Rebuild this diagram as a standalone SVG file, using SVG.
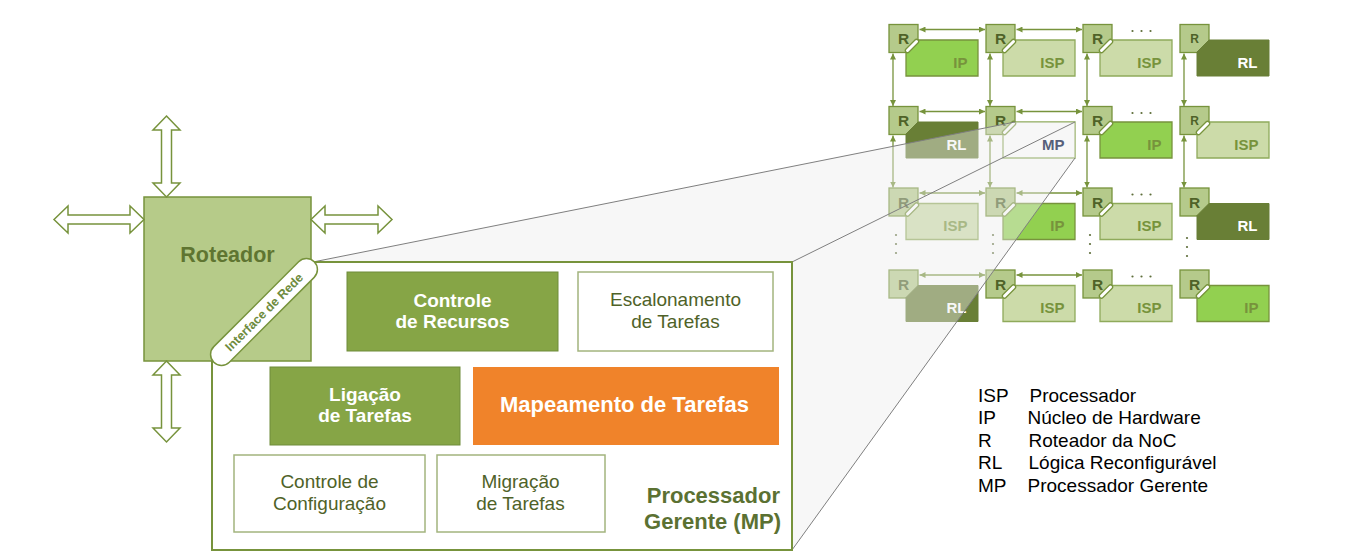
<svg xmlns="http://www.w3.org/2000/svg" width="1361" height="556" viewBox="0 0 1361 556">
<style>
text{font-family:"Liberation Sans",Arial,sans-serif}
.rb{fill:#B5CA8B;stroke:#77933C;stroke-width:1.3}
.isp{fill:#CCDBA9;stroke:#8FAA5B;stroke-width:1.3}
.ip{fill:#92D050;stroke:#77933C;stroke-width:1.3}
.rl{fill:#697F36;stroke:#697F36;stroke-width:1}
.mp{fill:#FFFFFF;stroke:#8FAA5B;stroke-width:1.3}
.po{stroke:#77933C;stroke-width:5.5;stroke-linecap:round}
.pw{stroke:#FFFFFF;stroke-width:3;stroke-linecap:round}
.rt{font-size:15.5px;font-weight:bold;fill:#4F6228;text-anchor:middle}
.rts{font-size:12px}
.lb{font-size:15px;font-weight:bold;fill:#77933C;text-anchor:end}
.lw{fill:#FFFFFF}
.ar{stroke:#77933C;stroke-width:1.3;fill:none;marker-start:url(#ah);marker-end:url(#ah)}
.dot{fill:#5E6E3A}
.blk{fill:#FFFFFF;stroke:#77933C;stroke-width:1.5;stroke-linejoin:miter}
.gbox{fill:#86A546;stroke:#6F8C3A;stroke-width:1}
.wbox{fill:#FFFFFF;stroke:#A3B47E;stroke-width:1.5}
.tw{font-size:19px;font-weight:bold;fill:#FFFFFF;text-anchor:middle}
.tg{font-size:19px;fill:#4F6228;text-anchor:middle}
.lg{font-size:19px;fill:#000000}
.pl{stroke:#7F7F7F;stroke-width:1;fill:none}
</style>
<defs>
<marker id="ah" viewBox="0 0 6 6" refX="6" refY="3" markerWidth="6" markerHeight="6" markerUnits="userSpaceOnUse" orient="auto-start-reverse">
<path d="M0,0 L6,3 L0,6 z" fill="#77933C"/>
</marker>
<rect id="rsq" x="0" y="0" width="29" height="28"/>
<polygon id="body" points="29,15.5 89,15.5 89,51.5 17,51.5 17,27.5"/>
<g id="pill"><line class="po" x1="27.5" y1="17" x2="18.5" y2="26"/><line class="pw" x1="27.5" y1="17" x2="18.5" y2="26"/></g>
</defs>

<!-- NoC grid connectors -->
<g id="grid-connectors">
<line class="ar" x1="919.5" y1="29.5" x2="985" y2="29.5"/>
<line class="ar" x1="1016.5" y1="29.5" x2="1082" y2="29.5"/>
<line class="ar" x1="919.5" y1="111.5" x2="985" y2="111.5"/>
<line class="ar" x1="1016.5" y1="111.5" x2="1082" y2="111.5"/>
<line class="ar" x1="919.5" y1="193" x2="985" y2="193"/>
<line class="ar" x1="1016.5" y1="193" x2="1082" y2="193"/>
<line class="ar" x1="919.5" y1="275" x2="985" y2="275"/>
<line class="ar" x1="1016.5" y1="275" x2="1082" y2="275"/>
<line class="ar" x1="893" y1="53.5" x2="893" y2="106"/>
<line class="ar" x1="990" y1="53.5" x2="990" y2="106"/>
<line class="ar" x1="1087" y1="53.5" x2="1087" y2="106"/>
<line class="ar" x1="1184" y1="53.5" x2="1184" y2="106"/>
<line class="ar" x1="893" y1="135.5" x2="893" y2="187.5"/>
<line class="ar" x1="990" y1="135.5" x2="990" y2="187.5"/>
<line class="ar" x1="1087" y1="135.5" x2="1087" y2="187.5"/>
<line class="ar" x1="1184" y1="135.5" x2="1184" y2="187.5"/>
<g class="dot">
<circle cx="1132.5" cy="31" r="1.1"/><circle cx="1141.5" cy="31" r="1.1"/><circle cx="1150.5" cy="31" r="1.1"/>
<circle cx="1132.5" cy="113" r="1.1"/><circle cx="1141.5" cy="113" r="1.1"/><circle cx="1150.5" cy="113" r="1.1"/>
<circle cx="1132.5" cy="194.5" r="1.1"/><circle cx="1141.5" cy="194.5" r="1.1"/><circle cx="1150.5" cy="194.5" r="1.1"/>
<circle cx="1132.5" cy="276.5" r="1.1"/><circle cx="1141.5" cy="276.5" r="1.1"/><circle cx="1150.5" cy="276.5" r="1.1"/>
<circle cx="896" cy="235" r="1.1"/><circle cx="896" cy="244" r="1.1"/><circle cx="896" cy="253" r="1.1"/>
<circle cx="993" cy="235" r="1.1"/><circle cx="993" cy="244" r="1.1"/><circle cx="993" cy="253" r="1.1"/>
<circle cx="1090" cy="235" r="1.1"/><circle cx="1090" cy="244" r="1.1"/><circle cx="1090" cy="253" r="1.1"/>
<circle cx="1187" cy="238" r="1.1"/><circle cx="1187" cy="247" r="1.1"/><circle cx="1187" cy="256" r="1.1"/>
</g>
</g>

<!-- NoC tiles -->
<g id="tile-r1c1" transform="translate(889,24.5)"><use href="#rsq" class="rb"/><use href="#body" class="ip"/><use href="#pill"/><text class="rt" x="14.5" y="19.5">R</text><text class="lb" x="78.5" y="43">IP</text></g>
<g id="tile-r1c2" transform="translate(986,24.5)"><use href="#rsq" class="rb"/><use href="#body" class="isp"/><use href="#pill"/><text class="rt" x="14.5" y="19.5">R</text><text class="lb" x="78.5" y="43">ISP</text></g>
<g id="tile-r1c3" transform="translate(1083,24.5)"><use href="#rsq" class="rb"/><use href="#body" class="isp"/><use href="#pill"/><text class="rt" x="14.5" y="19.5">R</text><text class="lb" x="78.5" y="43">ISP</text></g>
<g id="tile-r1c4" transform="translate(1180,24.5)"><use href="#rsq" class="rb"/><use href="#body" class="rl"/><text class="rt rts" x="14.5" y="18">R</text><text class="lb lw" x="77.5" y="43">RL</text></g>

<g id="tile-r2c1" transform="translate(889,106.5)"><use href="#rsq" class="rb"/><use href="#body" class="rl"/><text class="rt" x="14.5" y="19.5">R</text><text class="lb lw" x="77.5" y="43">RL</text></g>
<g id="tile-r2c2" transform="translate(986,106.5)"><use href="#rsq" class="rb"/><use href="#body" class="mp"/><use href="#pill"/><text class="rt" x="14.5" y="19.5">R</text></g>
<g id="tile-r2c3" transform="translate(1083,106.5)"><use href="#rsq" class="rb"/><use href="#body" class="ip"/><use href="#pill"/><text class="rt" x="14.5" y="19.5">R</text><text class="lb" x="78.5" y="43">IP</text></g>
<g id="tile-r2c4" transform="translate(1180,106.5)"><use href="#rsq" class="rb"/><use href="#body" class="isp"/><use href="#pill"/><text class="rt rts" x="14.5" y="18">R</text><text class="lb" x="78.5" y="43">ISP</text></g>

<g id="tile-r3c1" transform="translate(889,188)"><use href="#rsq" class="rb"/><use href="#body" class="isp"/><use href="#pill"/><text class="rt" x="14.5" y="19.5">R</text><text class="lb" x="78.5" y="43">ISP</text></g>
<g id="tile-r3c2" transform="translate(986,188)"><use href="#rsq" class="rb"/><use href="#body" class="ip"/><use href="#pill"/><text class="rt" x="14.5" y="19.5">R</text><text class="lb" x="78.5" y="43">IP</text></g>
<g id="tile-r3c3" transform="translate(1083,188)"><use href="#rsq" class="rb"/><use href="#body" class="isp"/><use href="#pill"/><text class="rt" x="14.5" y="19.5">R</text><text class="lb" x="78.5" y="43">ISP</text></g>
<g id="tile-r3c4" transform="translate(1180,188)"><use href="#rsq" class="rb"/><use href="#body" class="rl"/><text class="rt" x="14.5" y="19.5">R</text><text class="lb lw" x="77.5" y="43">RL</text></g>

<g id="tile-r4c1" transform="translate(889,270)"><use href="#rsq" class="rb"/><use href="#body" class="rl"/><text class="rt" x="14.5" y="19.5">R</text><text class="lb lw" x="77.5" y="43">RL</text></g>
<g id="tile-r4c2" transform="translate(986,270)"><use href="#rsq" class="rb"/><use href="#body" class="isp"/><use href="#pill"/><text class="rt" x="14.5" y="19.5">R</text><text class="lb" x="78.5" y="43">ISP</text></g>
<g id="tile-r4c3" transform="translate(1083,270)"><use href="#rsq" class="rb"/><use href="#body" class="isp"/><use href="#pill"/><text class="rt" x="14.5" y="19.5">R</text><text class="lb" x="78.5" y="43">ISP</text></g>
<g id="tile-r4c4" transform="translate(1180,270)"><use href="#rsq" class="rb"/><use href="#body" class="ip"/><use href="#pill"/><text class="rt" x="14.5" y="19.5">R</text><text class="lb" x="78.5" y="43">IP</text></g>

<!-- projection (zoom) of MP tile -->
<g id="projection">
<polygon points="313,262 1015,122 1075,122 1075,158 792,550 792,262" fill="#EDEDED" fill-opacity="0.42"/>
<line class="pl" x1="313" y1="262" x2="1015" y2="122"/>
<line class="pl" x1="792" y1="262" x2="1075" y2="122"/>
<line class="pl" x1="792" y1="550" x2="1075" y2="158"/>
<text x="1064.5" y="149.5" font-size="15px" font-weight="bold" fill="#56607A" text-anchor="end">MP</text>
</g>

<!-- Processador Gerente (MP) enlarged -->
<g id="mp-box">
<rect x="212" y="262" width="580" height="288" fill="#FFFFFF" stroke="#77933C" stroke-width="2"/>
<text x="780" y="503" font-size="22px" font-weight="bold" fill="#5B7132" text-anchor="end">Processador</text>
<text x="781" y="529" font-size="22px" font-weight="bold" fill="#5B7132" text-anchor="end">Gerente (MP)</text>
</g>
<g id="controle-recursos">
<rect class="gbox" x="347" y="272" width="211" height="79"/>
<text class="tw" x="452.5" y="306.5">Controle</text>
<text class="tw" x="452.5" y="328">de Recursos</text>
</g>
<g id="escalonamento">
<rect class="wbox" x="578" y="272" width="195" height="79"/>
<text class="tg" x="675.5" y="305.5">Escalonamento</text>
<text class="tg" x="675.5" y="327.5">de Tarefas</text>
</g>
<g id="ligacao">
<rect class="gbox" x="270" y="367" width="190" height="78"/>
<text class="tw" x="365" y="400.5">Ligação</text>
<text class="tw" x="365" y="422">de Tarefas</text>
</g>
<g id="mapeamento">
<rect x="473" y="367" width="306" height="78" fill="#F0832A"/>
<text x="624.5" y="412" font-size="22px" font-weight="bold" fill="#FFFFFF" text-anchor="middle">Mapeamento de Tarefas</text>
</g>
<g id="controle-config">
<rect class="wbox" x="234" y="455" width="191" height="77"/>
<text class="tg" x="329.5" y="488">Controle de</text>
<text class="tg" x="329.5" y="510">Configuração</text>
</g>
<g id="migracao">
<rect class="wbox" x="437" y="455" width="168" height="77"/>
<text class="tg" x="520.5" y="488">Migração</text>
<text class="tg" x="520.5" y="510">de Tarefas</text>
</g>

<!-- Roteador -->
<g id="roteador">
<rect x="144" y="197" width="167" height="164" fill="#B6CB89" stroke="#77933C" stroke-width="1.5"/>
<text x="227.5" y="262" font-size="21.5px" font-weight="bold" fill="#5F7531" text-anchor="middle">Roteador</text>
</g>
<g id="interface-rede" transform="translate(264,312) rotate(-45)">
<rect x="-71" y="-11" width="142" height="22" rx="11" ry="11" fill="#FFFFFF" stroke="#77933C" stroke-width="1.5"/>
<text x="0" y="4.5" font-size="12.5px" font-weight="bold" fill="#6E8B3D" text-anchor="middle">Interface de Rede</text>
</g>

<!-- Roteador ports -->
<g id="ports">
<path class="blk" d="M166.5,116 L180,130 L171.5,130 L171.5,183 L180,183 L166.5,197 L153,183 L161.5,183 L161.5,130 L153,130 Z"/>
<path class="blk" d="M166.5,361 L180,375 L171.5,375 L171.5,428 L180,428 L166.5,442 L153,428 L161.5,428 L161.5,375 L153,375 Z"/>
<path class="blk" d="M54,219.5 L68,206 L68,215 L130,215 L130,206 L144,219.5 L130,233 L130,224 L68,224 L68,233 Z"/>
<path class="blk" d="M311,219.5 L325,206 L325,215 L378,215 L378,206 L392,219.5 L378,233 L378,224 L325,224 L325,233 Z"/>
</g>

<!-- Legend -->
<g id="legend">
<text class="lg" x="978" y="401.5">ISP</text><text class="lg" x="1029.5" y="401.5">Processador</text>
<text class="lg" x="978" y="424">IP</text><text class="lg" x="1027.5" y="424">Núcleo de Hardware</text>
<text class="lg" x="978" y="446.5">R</text><text class="lg" x="1028.5" y="446.5">Roteador da NoC</text>
<text class="lg" x="978" y="469">RL</text><text class="lg" x="1028.5" y="469">Lógica Reconfigurável</text>
<text class="lg" x="978" y="491.5">MP</text><text class="lg" x="1027.5" y="491.5">Processador Gerente</text>
</g>
</svg>
